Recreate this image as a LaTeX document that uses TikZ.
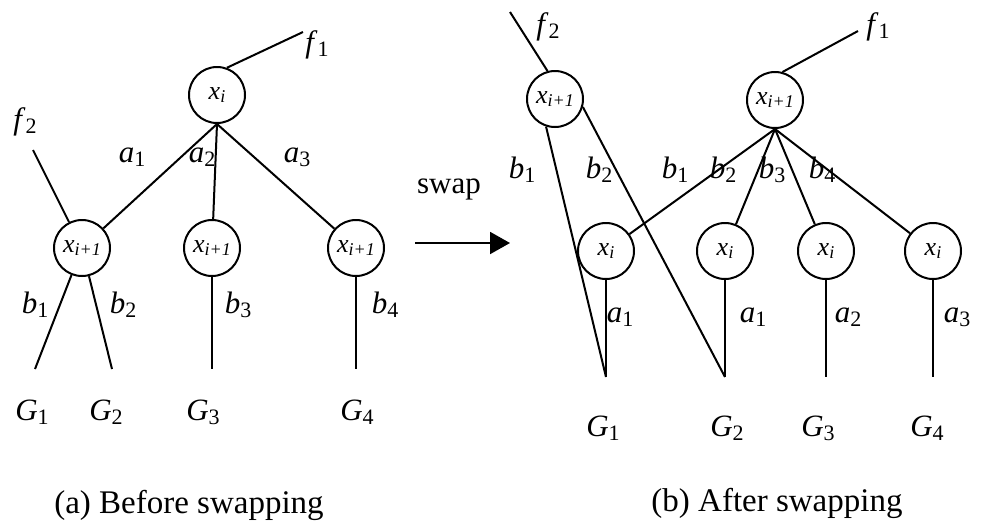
\documentclass[tikz,border=0pt]{standalone}
\usepackage{fontspec}
\setmainfont{Liberation Serif}
\usetikzlibrary{arrows.meta}
\newcommand{\lbl}[2]{\textit{#1}\raisebox{-0.3ex}{\fontsize{11}{11}\selectfont #2}}
\newcommand{\xvar}[1]{\textit{x}\raisebox{-0.3ex}{\fontsize{9}{9}\selectfont\textit{#1}}}
\begin{document}
\begin{tikzpicture}[
    x=0.5pt, y=-0.5pt,
    line width=1pt,
    font=\fontsize{15.5}{18}\selectfont,
    var/.style={draw, circle, minimum size=28pt, inner sep=0pt, font=\fontsize{13}{14}\selectfont},
    captext/.style={font=\fontsize{16.5}{19}\selectfont}
  ]
  \useasboundingbox (0,0) rectangle (986,527);
  % (a) before swapping
  \node[var] (r) at (217,95) {\xvar{i}};
  \node[var] (c1) at (82,248) {\xvar{i+1}};
  \node[var] (c2) at (212,248) {\xvar{i+1}};
  \node[var] (c3) at (356,248) {\xvar{i+1}};
  \coordinate (fa1) at (303,32);
  \coordinate (fa2) at (33,150);
  \node at (317,45) {\lbl{f}{1}};
  \node at (25,122) {\lbl{f}{2}};
  \draw (r.70) -- (fa1);
  \draw (fa2) -- (c1);
  \foreach \n in {1,2,3}
    \draw (r.south) -- (c\n);
  \foreach \n/\x in {1/132,2/202,3/297}
    \node at (\x,157) {\lbl{a}{\n}};
  \foreach \n/\x in {1/35,2/112,3/212,4/356}
    \coordinate (g\n) at (\x,369);
  \draw (c1) -- (g1);
  \draw (c1) -- (g2);
  \draw (c2) -- (g3);
  \draw (c3) -- (g4);
  \foreach \n/\x in {1/35,2/123,3/238,4/385}
    \node at (\x,305) {\lbl{b}{\n}};
  \foreach \n/\x in {1/32,2/106,3/203,4/357}
    \node at (\x,412) {\lbl{G}{\n}};
  \node[captext] at (189,505) {(a) Before swapping};
  % swap arrow
  \node (sw) at (449,189) {swap};
  \coordinate (s0) at (415,243);
  \coordinate (s1) at (510,243);
  \draw[-{Triangle[length=10pt,width=11pt]}] (s0) -- (s1);
  % (b) after swapping
  \node[var] (p) at (555,99) {\xvar{i+1}};
  \node[var] (q) at (775,100) {\xvar{i+1}};
  \coordinate (fb1) at (858,31);
  \coordinate (fb2) at (510,12);
  \node at (878,27) {\lbl{f}{1}};
  \node at (548,27) {\lbl{f}{2}};
  \draw (q.75) -- (fb1);
  \draw (p.105) -- (fb2);
  \foreach \n/\x in {1/606,2/725,3/826,4/933} {
    \node[var] (d\n) at (\x,251) {\xvar{i}};
    \coordinate (h\n) at (\x,377);
    \draw (q.south) -- (d\n);
    \draw (d\n) -- (h\n);
  }
  \draw (p.252) -- (h1);
  \draw (p.344) -- (h2);
  \node at (522,170) {\lbl{b}{1}};
  \node at (599,170) {\lbl{b}{2}};
  \foreach \n/\x in {1/675,2/723,3/772,4/822}
    \node at (\x,170) {\lbl{b}{\n}};
  \node at (620,317) {\lbl{a}{1}};
  \node at (753,317) {\lbl{a}{1}};
  \node at (848,317) {\lbl{a}{2}};
  \node at (957,317) {\lbl{a}{3}};
  \foreach \n/\x in {1/603,2/727,3/818,4/927}
    \node at (\x,428) {\lbl{G}{\n}};
  \node[captext] at (777,503) {(b) After swapping};
\end{tikzpicture}
\end{document}
